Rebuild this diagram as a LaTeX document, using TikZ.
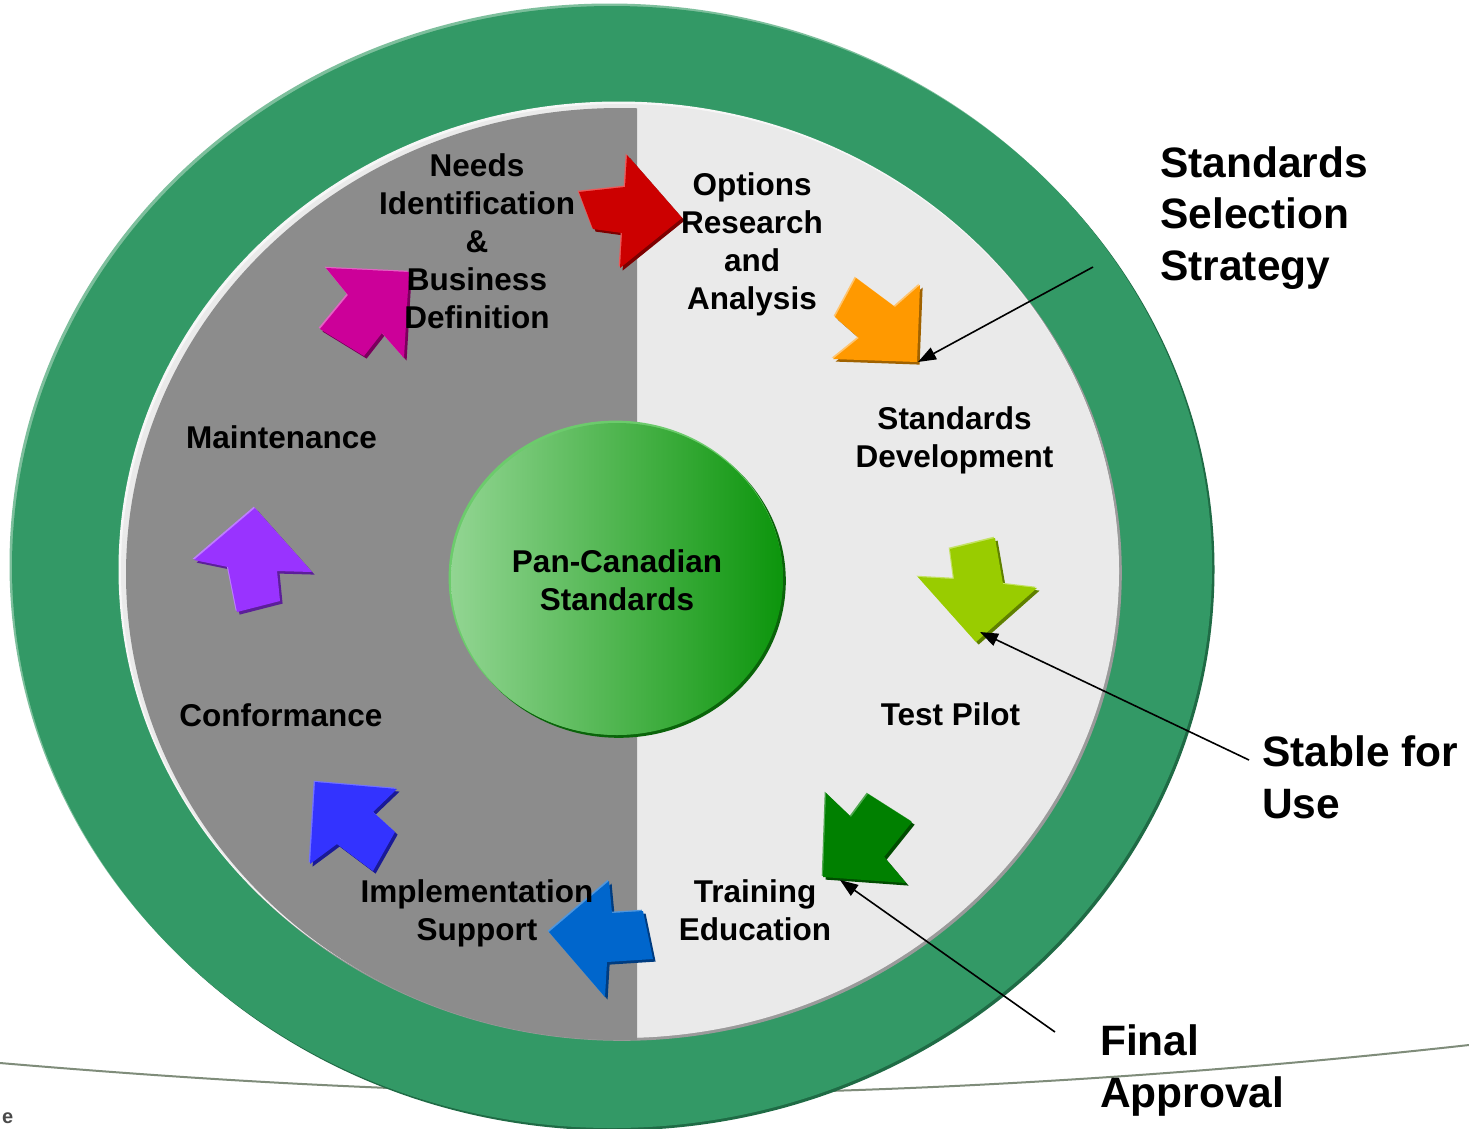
\documentclass[tikz,border=0pt]{standalone}
\usepackage{fontspec}
\setmainfont{Liberation Sans}
\usetikzlibrary{arrows.meta}
\definecolor{ringgreen}{HTML}{339966}
\definecolor{ringdark}{HTML}{1F6B45}
\definecolor{ringlight}{HTML}{7DBF9C}
\definecolor{innerfill}{HTML}{EAEAEA}
\definecolor{innershade}{HTML}{9A9A9A}
\definecolor{innerhl}{HTML}{F7F7F7}
\definecolor{halfgray}{HTML}{8C8C8C}
\definecolor{swooshc}{HTML}{7F8C7A}
\definecolor{corel}{HTML}{92D592}
\definecolor{corem}{HTML}{66BA66}
\definecolor{corer}{HTML}{0C950C}
\definecolor{coreS}{HTML}{0A640A}
\definecolor{coreL}{HTML}{6CCB6C}
\definecolor{cutgray}{HTML}{4A4A4A}
% arrow colours: main / shadow / light
\definecolor{redM}{HTML}{CC0000}\definecolor{redS}{HTML}{7D0000}\definecolor{redL}{HTML}{EC5A5A}
\definecolor{orgM}{HTML}{FF9900}\definecolor{orgS}{HTML}{A06200}\definecolor{orgL}{HTML}{FFC46E}
\definecolor{ygM}{HTML}{99CC00}\definecolor{ygS}{HTML}{5F8000}\definecolor{ygL}{HTML}{C4E264}
\definecolor{grM}{HTML}{008000}\definecolor{grS}{HTML}{004C00}\definecolor{grL}{HTML}{50A850}
\definecolor{mbM}{HTML}{0066CC}\definecolor{mbS}{HTML}{003C80}\definecolor{mbL}{HTML}{5096DC}
\definecolor{bbM}{HTML}{3333FF}\definecolor{bbS}{HTML}{1A1A96}\definecolor{bbL}{HTML}{7373FF}
\definecolor{puM}{HTML}{9933FF}\definecolor{puS}{HTML}{5C1F99}\definecolor{puL}{HTML}{BE7DFF}
\definecolor{mgM}{HTML}{CC0099}\definecolor{mgS}{HTML}{7A005C}\definecolor{mgL}{HTML}{E264C3}
\newcommand\blkarrow[4]{%
  \fill[fill=#3, shift={(2.6,2.6)}] #1 -- cycle;
  \fill[fill=#4, shift={(-1.3,-1.3)}] #1 -- cycle;
  \fill[fill=#2] #1 -- cycle;}
\tikzset{
  lbl/.style={font=\bfseries\fontsize{31.5}{38}\selectfont, align=center, inner sep=0pt, text=black},
  biglbl/.style={font=\bfseries\fontsize{42.5}{51.5}\selectfont, align=left, inner sep=0pt, anchor=west, text=black},
  callout/.style={draw=black, line width=1.6pt, -{Triangle[length=18pt,width=13pt]}},
  swoosh/.style={draw=swooshc, line width=2pt},
}
\begin{document}
\begin{tikzpicture}[x=1pt,y=-1pt]
\useasboundingbox (0,0) rectangle (1469,1128);
\fill[white] (0,0) rectangle (1469,1128);
% background swoosh line
\draw[swoosh] (0,1063) .. controls (200,1080) and (400,1092) .. (640,1094) .. controls (900,1094) and (1200,1075) .. (1469,1045);
% outer green ring
\fill[ringdark] (614.5,569.5) ellipse [x radius=600, y radius=561];
\fill[ringlight] (609.5,564.5) ellipse [x radius=600, y radius=561];
\fill[ringgreen] (612,567) ellipse [x radius=600, y radius=561];
% inner disc
\fill[innershade] (621.8,572.8) ellipse [x radius=500, y radius=468];
\fill[innerhl] (618.5,569.5) ellipse [x radius=500, y radius=468];
\fill[innerfill] (620,571) ellipse [x radius=499, y radius=467];
\begin{scope}
  \clip (0,0) rectangle (637,1128);
  \fill[halfgray] (620,574) ellipse [x radius=494, y radius=466];
\end{scope}
% centre disc
\fill[coreS] (618.8,580.8) ellipse [x radius=167, y radius=157];
\fill[coreL] (615.6,577.6) ellipse [x radius=167, y radius=157];
\path[left color=corel, middle color=corem, right color=corer]
  (617,579) ellipse [x radius=166, y radius=156];
% block arrows
\blkarrow{(579,192) -- (625,187) -- (627,155) -- (682,218) -- (620,268) -- (622,233) -- (593,229)}{redM}{redS}{redL}
\blkarrow{(856,278) -- (895,307) -- (920,285) -- (917,362) -- (833,359) -- (859,338) -- (835,317)}{orgM}{orgS}{orgL}
\blkarrow{(950,549) -- (995,538) -- (1003,584) -- (1037,588) -- (976,642) -- (918,577) -- (954,579)}{ygM}{ygS}{ygL}
\blkarrow{(826,793) -- (851,817) -- (868,794) -- (912,822) -- (884,857) -- (906,883) -- (823,877)}{grM}{grS}{grL}
\blkarrow{(549,932) -- (609,881) -- (612,913) -- (643,911) -- (653,959) -- (607,962) -- (605,997)}{mbM}{mbS}{mbL}
\blkarrow{(315,782) -- (397,789) -- (373,812) -- (395,832) -- (373,871) -- (337,844) -- (310,864)}{bbM}{bbS}{bbL}
\blkarrow{(255,508) -- (312,572) -- (277,571) -- (280,601) -- (237,612) -- (228,567) -- (194,560)}{puM}{puS}{puL}
\blkarrow{(326,268) -- (409,272) -- (404,358) -- (382,333) -- (364,356) -- (320,329) -- (348,295)}{mgM}{mgS}{mgL}
% labels
\node[lbl] (needs) at (477,241.5) {Needs\\Identification\\\&\\Business\\Definition};
\node[lbl] (options) at (752,244.5) {Options\\Research\\and\\Analysis};
\node[lbl] (stddev) at (954.5,440) {Standards\\Development};
\node[lbl] (pilot) at (950.5,714) {Test Pilot};
\node[lbl] (training) at (755,910.5) {Training\\Education};
\node[lbl] (impl) at (477,913.5) {Implementation\\Support};
\node[lbl] (conf) at (281,715) {Conformance};
\node[lbl] (maint) at (281.5,437) {Maintenance};
\node[lbl] (core) at (617,580.5) {Pan-Canadian\\Standards};
\node[biglbl] (selection) at (1160,218) {Standards\\Selection\\Strategy};
\node[biglbl] (stable) at (1262,777.5) {Stable for\\Use};
\node[biglbl] (final) at (1100,1070.5) {Final\\Approval};
\node[font=\bfseries\fontsize{20}{22}\selectfont, text=cutgray, anchor=south west, inner sep=0pt] (ecut) at (2,1124) {e};
% callouts
\coordinate (selFrom) at (1093,267);
\coordinate (selTip) at (918,362);
\coordinate (stableFrom) at (1249,760);
\coordinate (stableTip) at (980,632);
\coordinate (finalFrom) at (1055,1032);
\coordinate (finalTip) at (840,880);
\draw[callout] (selFrom) -- (selTip);
\draw[callout] (stableFrom) -- (stableTip);
\draw[callout] (finalFrom) -- (finalTip);
\end{tikzpicture}
\end{document}
